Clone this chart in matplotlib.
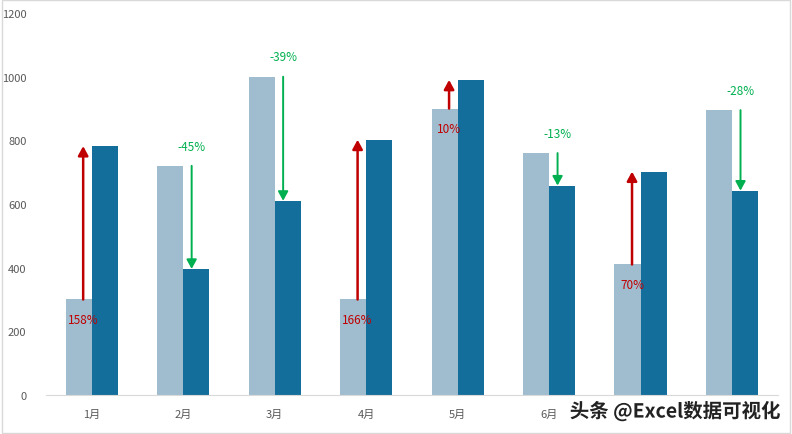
import matplotlib.pyplot as plt
import matplotlib.patheffects as pe
import numpy as np

plt.rcParams['font.family'] = ['Noto Sans CJK SC', 'DejaVu Sans']

months = ['1月', '2月', '3月', '4月', '5月', '6月', '7月', '8月']
prev_vals = [300, 720, 1000, 300, 900, 760, 410, 895]
curr_vals = [782, 396, 610, 802, 990, 658, 702, 642]
pct_labels = ['158%', '-45%', '-39%', '166%', '10%', '-13%', '70%', '-28%']

light = '#9FBDCF'
dark = '#146E9C'
red = '#C00000'
green = '#00B050'

fig = plt.figure(figsize=(7.92, 4.35), dpi=100)
ax = fig.add_axes([0.058, 0.0897, 0.924, 0.878])

x = np.arange(len(months))
w = 0.285
ax.bar(x - w / 2, prev_vals, width=w, color=light)
ax.bar(x + w / 2, curr_vals, width=w, color=dark)

off = 0.093
for i, (a, b, lab) in enumerate(zip(prev_vals, curr_vals, pct_labels)):
    if b >= a:
        xa, col, lw = x[i] - off, red, 1.8
        ty = a - 62
    else:
        xa, col, lw = x[i] + off, green, 1.4
        ty = a + 62
    ax.annotate('', xy=(xa, b), xytext=(xa, a),
                arrowprops=dict(arrowstyle='-|>,head_length=0.55,head_width=0.3',
                                color=col, lw=lw, shrinkA=0, shrinkB=0))
    ax.text(xa, ty, lab, color=col, ha='center', va='center', fontsize=8.5)

ax.set_xlim(-0.5, 7.5)
ax.set_ylim(0, 1200)
ax.set_yticks(range(0, 1201, 200))
ax.set_xticks(x)
ax.set_xticklabels(months)
ax.tick_params(axis='both', length=0, labelsize=8, labelcolor='#595959')
ax.tick_params(axis='x', pad=10)
ax.tick_params(axis='y', pad=14)
for s in ['top', 'right', 'left']:
    ax.spines[s].set_visible(False)
ax.spines['bottom'].set_color('#D9D9D9')

# chart border
fig.patches.append(plt.Rectangle((0.002, 0.003), 0.996, 0.994, transform=fig.transFigure,
                                 fill=False, edgecolor='#D9D9D9', lw=1))

# watermark (covers the last two month labels, as in the source image)
fig.text(0.986, 0.052, '头条 @Excel数据可视化', ha='right', va='center', fontsize=14,
         fontweight='bold', color='#222222', zorder=10,
         bbox=dict(facecolor='white', edgecolor='none', pad=0),
         path_effects=[pe.withStroke(linewidth=2.5, foreground='white')])

fig.savefig('out.png', dpi=100)
